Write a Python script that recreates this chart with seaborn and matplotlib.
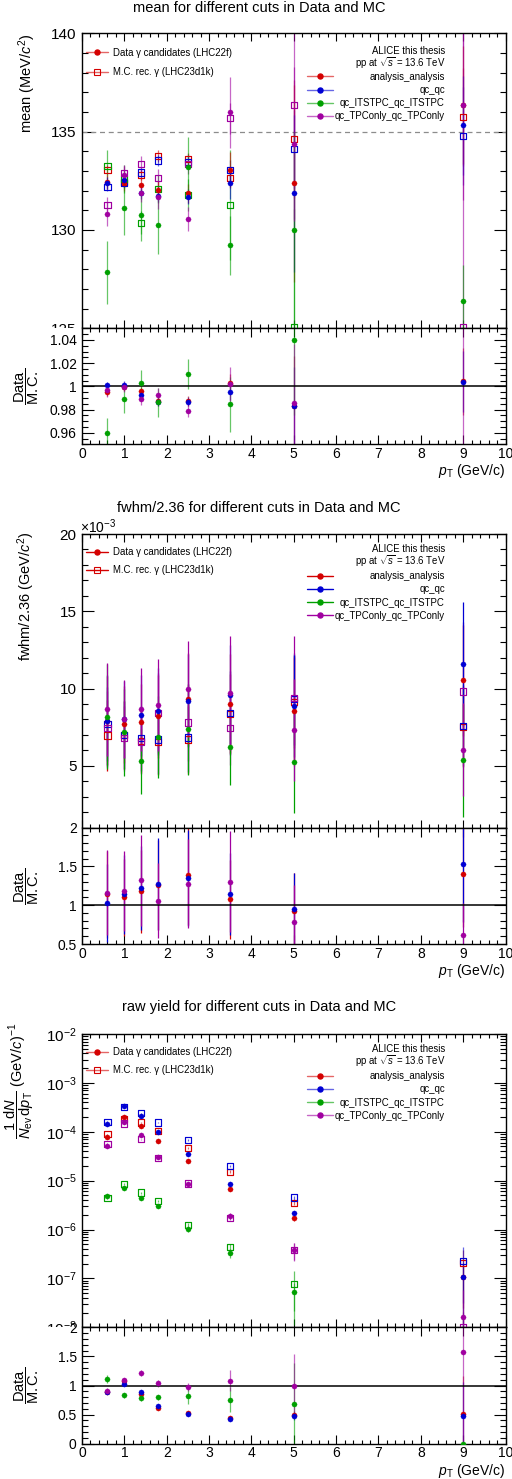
import numpy as np
import matplotlib
matplotlib.use("Agg")
import matplotlib.pyplot as plt
from matplotlib.colors import to_rgba
from matplotlib.lines import Line2D
from matplotlib.patches import Rectangle
from matplotlib.ticker import (MultipleLocator, FormatStrFormatter, LogLocator,
                               NullFormatter, LogFormatterSciNotation)
import seaborn as sns

# ---------------------------------------------------------------- data
PT = np.array([0.6, 1.0, 1.4, 1.8, 2.5, 3.5, 5.0, 9.0])
CUTS = ["analysis_analysis", "qc_qc", "qc_ITSTPC_qc_ITSTPC", "qc_TPConly_qc_TPConly"]
COLORS = ["#d40000", "#0000d4", "#00a000", "#a000a0"]
SAMPLES = ["Data \u03b3 candidates (LHC22f)", "M.C. rec. \u03b3 (LHC23d1k)"]
TITLES = ["mean for different cuts in Data and MC",
          "fwhm/2.36 for different cuts in Data and MC",
          "raw yield for different cuts in Data and MC"]

# peak position (MeV/c^2)
MEAN_DATA = [
    [132.42, 132.39, 132.27, 132.03, 131.86, 133.05, 132.37, 136.34],
    [132.37, 132.54, 131.90, 131.75, 131.70, 132.37, 131.86, 135.32],
    [127.85, 131.13, 130.76, 130.24, 133.22, 129.22, 130.00, 126.40],
    [130.81, 132.80, 131.86, 131.66, 130.57, 135.98, 134.37, 136.34],
]
MEAN_DATA_ERR = [
    [0.35, 0.40, 0.35, 0.45, 0.50, 0.90, 5.0, 3.0],
    [0.30, 0.35, 0.30, 0.35, 0.40, 0.80, 4.0, 2.5],
    [1.60, 1.40, 1.30, 1.45, 1.50, 1.50, 5.0, 1.8],
    [0.60, 0.50, 0.45, 0.60, 0.60, 1.80, 3.9, 4.8],
]
MEAN_MC = [
    [133.05, 132.45, 132.80, 133.76, 133.59, 132.66, 134.61, 135.76],
    [132.20, 132.40, 132.92, 133.53, 133.45, 133.05, 134.12, 134.78],
    [133.27, 132.59, 130.37, 132.08, 131.77, 131.27, 125.05, 144.00],
    [131.27, 132.88, 133.36, 132.63, 133.37, 135.68, 136.34, 125.05],
]
MEAN_MC_ERR = [
    [0.25, 0.25, 0.25, 0.30, 0.30, 0.50, 3.0, 2.5],
    [0.20, 0.25, 0.25, 0.30, 0.30, 0.50, 2.0, 2.5],
    [0.80, 0.70, 0.60, 0.70, 0.80, 2.80, 6.0, 3.0],
    [0.40, 0.35, 0.40, 0.45, 0.50, 0.80, 5.8, 16.0],
]

# peak width, fwhm/2.36 (10^-3 GeV/c^2)
NAN = np.nan
FWHM_DATA = [
    [7.93, 7.69, 7.81, 8.21, 9.31, 9.02, 8.52, 10.54],
    [7.91, 8.00, 8.27, 8.53, 9.22, 9.60, 8.88, 11.60],
    [8.19, 7.16, 5.30, 6.85, 7.37, 6.19, 5.26, 5.37],
    [8.66, 8.04, 8.66, 8.94, 9.98, 9.70, 7.31, 6.04],
]
FWHM_DATA_ERR = [
    [2.9, 2.5, 2.5, 2.7, 3.0, 3.2, 3.5, 3.6],
    [3.0, 2.5, 2.6, 2.8, 3.0, 3.2, 3.3, 4.0],
    [3.4, 2.8, 2.1, 2.65, 2.95, 2.4, 3.3, 3.65],
    [3.0, 2.5, 2.7, 3.0, 3.1, 3.7, 3.3, 3.0],
]
FWHM_MC = [
    [6.96, 6.99, 6.62, 6.53, 6.70, 8.37, 9.15, 7.50],
    [7.69, 7.02, 6.78, 6.70, 6.83, 8.42, 9.33, 7.60],
    [NAN, NAN, NAN, NAN, NAN, NAN, NAN, NAN],
    [7.44, 6.79, 6.56, 8.43, 7.80, 7.44, 9.37, 9.81],
]
FWHM_MC_ERR = [
    [2.3, 2.2, 2.1, 2.1, 2.2, 2.6, 3.0, 2.6],
    [2.4, 2.2, 2.1, 2.2, 2.2, 2.7, 3.0, 2.6],
    [NAN, NAN, NAN, NAN, NAN, NAN, NAN, NAN],
    [2.4, 2.1, 2.1, 2.6, 2.5, 2.4, 4.0, 4.5],
]

# raw yield, 1/N_ev dN/dpT ((GeV/c)^-1)
YIELD_DATA = [
    [7.9e-5, 2.0e-4, 1.32e-4, 6.4e-5, 2.5e-5, 6.7e-6, 1.7e-6, 1.05e-7],
    [1.42e-4, 3.3e-4, 2.13e-4, 1.0e-4, 3.45e-5, 8.6e-6, 2.15e-6, 1.09e-7],
    [4.9e-6, 7.0e-6, 4.5e-6, 3.1e-6, 1.02e-6, 3.3e-7, 5.2e-8, 0.0],
    [5.2e-5, 1.6e-4, 8.6e-5, 3.0e-5, 8.5e-6, 1.9e-6, 3.8e-7, 1.6e-8],
]
YIELD_DATA_ERR = [
    [2.4e-6, 6.0e-6, 4.0e-6, 1.9e-6, 1.0e-6, 4.0e-7, 1.7e-7, 0.95e-7],
    [4.3e-6, 1.0e-5, 6.4e-6, 3.0e-6, 1.4e-6, 5.0e-7, 2.2e-7, 1.0e-7],
    [2.2e-7, 2.8e-7, 2.0e-7, 1.4e-7, 1.2e-7, 0.7e-7, 3.0e-8, 0.0],
    [1.6e-6, 4.8e-6, 2.6e-6, 1.2e-6, 4.3e-7, 2.3e-7, 1.5e-7, 4.2e-8],
]
YIELD_MC = [
    [8.9e-5, 1.85e-4, 1.55e-4, 1.05e-4, 4.7e-5, 1.53e-5, 3.5e-6, 2.05e-7],
    [1.6e-4, 3.2e-4, 2.4e-4, 1.55e-4, 6.7e-5, 2.0e-5, 4.5e-6, 2.31e-7],
    [4.4e-6, 8.45e-6, 5.7e-6, 3.9e-6, 1.24e-6, 4.35e-7, 7.6e-8, 5.0e-9],
    [5.7e-5, 1.47e-4, 7.05e-5, 2.9e-5, 8.75e-6, 1.75e-6, 3.85e-7, 1.02e-8],
]
YIELD_MC_ERR = [
    [2.7e-6, 5.5e-6, 4.6e-6, 3.2e-6, 1.9e-6, 9.0e-7, 3.5e-7, 1.8e-7],
    [4.8e-6, 9.6e-6, 7.2e-6, 4.6e-6, 2.7e-6, 1.2e-6, 4.5e-7, 2.0e-7],
    [2.0e-7, 3.4e-7, 2.6e-7, 1.7e-7, 1.5e-7, 0.8e-7, 6.5e-8, 5.0e-9],
    [1.7e-6, 4.4e-6, 2.1e-6, 1.2e-6, 4.4e-7, 2.1e-7, 1.5e-7, 1.0e-8],
]

# ---------------------------------------------------------------- style
sns.set_theme(style="ticks")
plt.rcParams.update({
    "font.family": ["Liberation Sans", "DejaVu Sans"],
    "mathtext.fontset": "custom",
    "mathtext.rm": "Liberation Sans",
    "mathtext.it": "Liberation Sans:italic",
    "mathtext.bf": "Liberation Sans:bold",
    "mathtext.sf": "Liberation Sans",
    "xtick.direction": "in",
    "ytick.direction": "in",
    "xtick.top": True,
    "ytick.right": True,
    "axes.linewidth": 1.0,
    "axes.edgecolor": "black",
    "axes.facecolor": "white",
    "figure.facecolor": "white",
    "xtick.color": "black",
    "ytick.color": "black",
    "text.color": "black",
    "axes.labelcolor": "black",
})

FIG_W, FIG_H = 512, 1479
X0, X1 = 82.0, 505.5
LEG_FS = 6.9

fig = plt.figure(figsize=(FIG_W / 100, FIG_H / 100), dpi=100)


def fx(px):
    return px / FIG_W


def fy(px):
    return 1.0 - px / FIG_H


def ratio_of(d, de, m, me):
    d, de, m, me = (np.asarray(a, float) for a in (d, de, m, me))
    r = d / m
    re = np.sqrt((de / m) ** 2 + (d * me / m ** 2) ** 2)
    return r, re


def draw_bars(ax, v, e, color, alpha):
    v = np.asarray(v, float)
    e = np.asarray(e, float)
    ok = np.isfinite(v) & np.isfinite(e)
    if ok.any():
        ax.errorbar(PT[ok], v[ok], yerr=e[ok], fmt="none",
                    ecolor=to_rgba(color, alpha), elinewidth=0.9,
                    capsize=0, zorder=2)


def draw_marks(ax, v, color, filled, positive=False):
    v = np.asarray(v, float)
    ok = np.isfinite(v)
    if positive:
        ok &= v > 0
    if not ok.any():
        return
    if filled:
        sns.scatterplot(x=PT[ok], y=v[ok], ax=ax, marker="o", s=14,
                        color=color, edgecolor=color, linewidth=0.2,
                        zorder=4, legend=False)
    else:
        sns.scatterplot(x=PT[ok], y=v[ok], ax=ax, marker="s", s=20,
                        color=color, facecolor="none", edgecolor=color,
                        linewidth=0.85, zorder=3, legend=False)


def style_x(ax, ratio):
    ax.set_xlim(0, 10)
    ax.xaxis.set_major_locator(MultipleLocator(1))
    ax.xaxis.set_minor_locator(MultipleLocator(0.2))
    if ratio:
        ax.tick_params(axis="x", which="major", length=6.7, width=0.8,
                       labelsize=10, pad=2)
        ax.tick_params(axis="x", which="minor", length=3.1, width=0.8)
    else:
        ax.tick_params(axis="x", which="major", length=6.0, width=0.8,
                       labelbottom=False)
        ax.tick_params(axis="x", which="minor", length=3.0, width=0.8)


def style_y(ax, size):
    ax.tick_params(axis="y", which="major", length=8.6, width=0.8,
                   labelsize=size, pad=3.8)
    ax.tick_params(axis="y", which="minor", length=4.3, width=0.8)


def panel(top, mid, bot, data, data_err, mc, mc_err, alpha, log=False):
    w = fx(X1) - fx(X0)
    ax = fig.add_axes([fx(X0), fy(mid), w, (mid - top) / FIG_H])
    axr = fig.add_axes([fx(X0), fy(bot), w, (bot - mid) / FIG_H])
    ax.set_zorder(0)
    axr.set_zorder(2)
    # the lower pad hides whatever of the upper pad spills into its margin
    fig.add_artist(Rectangle((0, fy(bot)), fx(X0), (bot - mid) / FIG_H,
                             transform=fig.transFigure, facecolor="white",
                             edgecolor="none", zorder=1))

    for i in range(4):
        draw_bars(ax, mc[i], mc_err[i], COLORS[i], alpha)
    for i in range(4):
        draw_bars(ax, data[i], data_err[i], COLORS[i], alpha)
    for i in range(4):
        draw_marks(ax, mc[i], COLORS[i], False, positive=log)
    for i in range(4):
        draw_marks(ax, data[i], COLORS[i], True, positive=log)

    ratios = [ratio_of(data[i], data_err[i], mc[i], mc_err[i]) for i in range(4)]
    for i in range(4):
        draw_bars(axr, ratios[i][0], ratios[i][1], COLORS[i], alpha)
    for i in range(4):
        draw_marks(axr, ratios[i][0], COLORS[i], True)
    axr.axhline(1.0, color="black", lw=1.1, zorder=2.5)

    style_x(ax, False)
    style_x(axr, True)
    style_y(ax, 11)
    style_y(axr, 10)
    ax.set_xlabel("")
    ax.set_ylabel("")
    axr.set_ylabel("")
    axr.set_xlabel(r"$p_{\mathrm{T}}$ (GeV/c)", loc="right", fontsize=10,
                   labelpad=1)
    return ax, axr


def legends(ax, alpha, top_px, h_px, left_off, left_space, right_off,
            alice_off):
    c0 = COLORS[0]
    lead = [
        Line2D([], [], color=to_rgba(c0, alpha), lw=1.0, marker="o", ms=3.6,
               mfc=c0, mec=c0),
        Line2D([], [], color=to_rgba(c0, alpha), lw=1.0, marker="s", ms=4.6,
               mfc="none", mec=c0, mew=0.8),
    ]
    leg1 = ax.legend(lead, SAMPLES, loc="upper left",
                     bbox_to_anchor=((86 - X0) / (X1 - X0), 1 - left_off / h_px),
                     frameon=False, fontsize=LEG_FS, handlelength=2.3,
                     handletextpad=0.5, labelspacing=left_space, borderpad=0,
                     borderaxespad=0)
    ax.add_artist(leg1)
    keys = [Line2D([], [], color=to_rgba(c, alpha), lw=1.0, marker="o",
                   ms=3.6, mfc=c, mec=c) for c in COLORS]
    # keys only; the names are set right-aligned once the layout is known
    leg2 = ax.legend(keys, [""] * len(keys), loc="upper left",
                     bbox_to_anchor=((307 - X0) / (X1 - X0), 1 - right_off / h_px),
                     frameon=False, fontsize=LEG_FS, handlelength=2.7,
                     handletextpad=0.2, labelspacing=0.33, borderpad=0,
                     borderaxespad=0)
    fig.text(fx(445), fy(top_px + alice_off), "ALICE this thesis", ha="right",
             va="center", fontsize=LEG_FS)
    fig.text(fx(445), fy(top_px + alice_off + 12.3),
             r"pp at $\sqrt{s}$ = 13.6 TeV",
             ha="right", va="center", fontsize=LEG_FS)
    return leg2


right_legends = []

# ---------------------------------------------------------------- mean
ax1, ax1r = panel(33.3, 328.3, 444.3, MEAN_DATA, MEAN_DATA_ERR, MEAN_MC,
                  MEAN_MC_ERR, alpha=0.6)
ax1.axhline(135, color="#8c8c8c", lw=0.9, ls=(0, (4, 3)), zorder=1)
ax1.set_ylim(125, 140)
ax1.yaxis.set_major_locator(MultipleLocator(5))
ax1.yaxis.set_minor_locator(MultipleLocator(1))
ax1.yaxis.set_major_formatter(FormatStrFormatter("%g"))
ax1r.set_ylim(0.95, 1.05)
ax1r.yaxis.set_major_locator(MultipleLocator(0.02))
ax1r.yaxis.set_minor_locator(MultipleLocator(0.005))
ax1r.yaxis.set_major_formatter(FormatStrFormatter("%g"))
right_legends.append(legends(ax1, 0.6, 33.3, 295.0, 14.5, 1.0, 38.5, 17.7))
fig.text(fx(259), fy(8.5), TITLES[0], ha="center", va="center", fontsize=10.5)
fig.text(fx(27), fy(33.0), r"mean (MeV/$c^{2}$)", rotation=90, ha="center",
         va="top", fontsize=10.5)
fig.text(fx(27), fy(386.3), r"$\dfrac{\mathrm{Data}}{\mathrm{M.C.}}$",
         rotation=90, ha="center", va="center", fontsize=10.5)

# ---------------------------------------------------------------- width
ax2, ax2r = panel(534.0, 827.7, 944.0, FWHM_DATA, FWHM_DATA_ERR, FWHM_MC,
                  FWHM_MC_ERR, alpha=1.0)
ax2.set_ylim(1, 20)
ax2.yaxis.set_major_locator(MultipleLocator(5))
ax2.yaxis.set_minor_locator(MultipleLocator(1))
ax2.yaxis.set_major_formatter(FormatStrFormatter("%g"))
ax2r.set_ylim(0.5, 2)
ax2r.yaxis.set_major_locator(MultipleLocator(0.5))
ax2r.yaxis.set_minor_locator(MultipleLocator(0.1))
ax2r.yaxis.set_major_formatter(FormatStrFormatter("%g"))
right_legends.append(legends(ax2, 1.0, 534.0, 293.7, 13.3, 0.82, 37.2, 15.3))
fig.text(fx(259), fy(507.5), TITLES[1], ha="center", va="center",
         fontsize=10.5)
fig.text(fx(80), fy(526.5), r"$\times$10$^{-3}$", ha="left", va="center",
         fontsize=10)
fig.text(fx(26), fy(531.5), r"fwhm/2.36 (GeV/$c^{2}$)", rotation=90,
         ha="center", va="top", fontsize=10.5)
fig.text(fx(27), fy(885.8), r"$\dfrac{\mathrm{Data}}{\mathrm{M.C.}}$",
         rotation=90, ha="center", va="center", fontsize=10.5)

# ---------------------------------------------------------------- yield
ax3, ax3r = panel(1034.0, 1327.3, 1443.7, YIELD_DATA, YIELD_DATA_ERR,
                  YIELD_MC, YIELD_MC_ERR, alpha=0.6, log=True)
ax3.set_yscale("log")
ax3.set_ylim(1e-8, 1e-2)
ax3.yaxis.set_major_locator(LogLocator(base=10, numticks=20))
ax3.yaxis.set_minor_locator(LogLocator(base=10, subs=np.arange(2, 10),
                                       numticks=20))
ax3.yaxis.set_major_formatter(LogFormatterSciNotation())
ax3.yaxis.set_minor_formatter(NullFormatter())
ax3r.set_ylim(0, 2)
ax3r.yaxis.set_major_locator(MultipleLocator(0.5))
ax3r.yaxis.set_minor_locator(MultipleLocator(0.1))
ax3r.yaxis.set_major_formatter(FormatStrFormatter("%g"))
right_legends.append(legends(ax3, 0.6, 1034.0, 293.3, 13.3, 0.82, 37.2, 15.3))
fig.text(fx(259), fy(1007.5), TITLES[2], ha="center", va="center",
         fontsize=10.5)
fig.text(fx(19), fy(1023), r"$\dfrac{1\ \mathrm{d}N}{N_{\mathrm{ev}}\,\mathrm{d}p_{\mathrm{T}}}\ (\mathrm{GeV}/c)^{-1}$",
         rotation=90, ha="center", va="top", fontsize=10.5)
fig.text(fx(27), fy(1385.5), r"$\dfrac{\mathrm{Data}}{\mathrm{M.C.}}$",
         rotation=90, ha="center", va="center", fontsize=10.5)

# legend entry names, right-aligned against the legend's right edge
fig.canvas.draw()
to_fig = fig.transFigure.inverted()
for leg in right_legends:
    for t, name in zip(leg.get_texts(), CUTS):
        xd, yd = t.get_transform().transform(t.get_position())
        _, yf = to_fig.transform((xd, yd))
        fig.text(fx(445), yf, name, ha="right", va="baseline",
                 fontsize=LEG_FS)

fig.savefig("out.png", dpi=100)
